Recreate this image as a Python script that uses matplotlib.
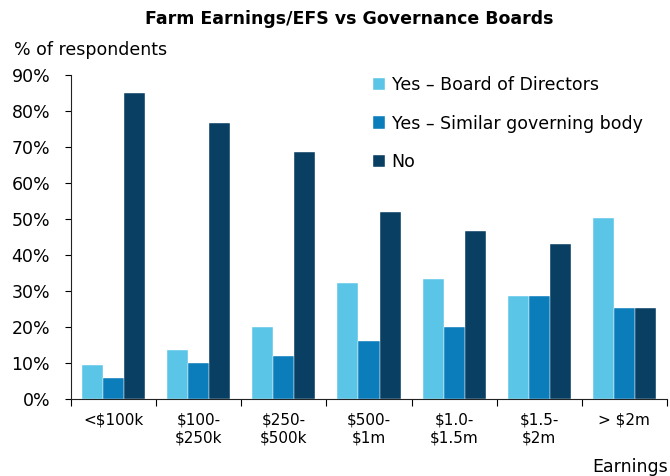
import matplotlib.pyplot as plt
import numpy as np

categories = ["<$100k", "$100-\n$250k", "$250-\n$500k", "$500-\n$1m",
              "$1.0-\n$1.5m", "$1.5-\n$2m", "> $2m"]
board = [9.4, 13.6, 19.9, 32.1, 33.4, 28.6, 50.2]
similar = [5.9, 10.1, 11.9, 16.0, 20.1, 28.6, 25.2]
no = [84.9, 76.6, 68.6, 52.0, 46.8, 43.0, 25.2]
series_names = ["Yes \u2013 Board of Directors", "Yes \u2013 Similar governing body", "No"]
colors = ["#5bc5e8", "#0a7dba", "#083f63"]

plt.rcParams['font.family'] = ['DejaVu Sans']

fig = plt.figure(figsize=(6.7, 4.76), dpi=100)
ax = fig.add_axes([71 / 670, 1 - 399 / 476, 596 / 670, 324 / 476])

x = np.arange(len(categories))
w = 0.247
for i, (vals, name, c) in enumerate(zip([board, similar, no], series_names, colors)):
    ax.bar(x + (i - 1) * w, vals, width=w, color=c, label=name,
           edgecolor="white", linewidth=0.3)

ax.set_xlim(-0.5, len(categories) - 0.5)
ax.set_ylim(0, 90)
ax.set_yticks(np.arange(0, 91, 10))
ax.set_yticklabels([f"{v}%" for v in range(0, 91, 10)], fontsize=12.5)
ax.set_xticks(x)
ax.set_xticklabels(categories, fontsize=11, linespacing=1.25)
ax.set_xticks(np.arange(-0.5, len(categories)), minor=True)
ax.tick_params(axis="x", which="major", length=0, pad=10)
ax.tick_params(axis="x", which="minor", length=5, direction="out", width=0.8)
ax.tick_params(axis="y", length=4, direction="out", width=0.8, pad=11)

for s in ["top", "right"]:
    ax.spines[s].set_visible(False)
for s in ["left", "bottom"]:
    ax.spines[s].set_color("#222222")
    ax.spines[s].set_linewidth(0.8)

leg = ax.legend(loc="upper left", bbox_to_anchor=(0.481, 1.046), frameon=False,
                fontsize=12.5, handlelength=0.7, handleheight=0.7,
                handletextpad=0.35, labelspacing=1.2)

fig.text(0.522, 0.96, "Farm Earnings/EFS vs Governance Boards",
         ha="center", va="center", fontsize=12.5, fontweight="bold")
fig.text(14 / 670, 1 - 50 / 476, "% of respondents", ha="left", va="center",
         fontsize=12.5)
fig.text(668 / 670, 1 - 467 / 476, "Earnings", ha="right", va="center",
         fontsize=12.5)
fig.text(14 / 670, 1 - 482 / 476, "Source: ANZ", ha="left", va="center",
         fontsize=10, color="#aaaaaa")

fig.savefig("out.png", dpi=100)
